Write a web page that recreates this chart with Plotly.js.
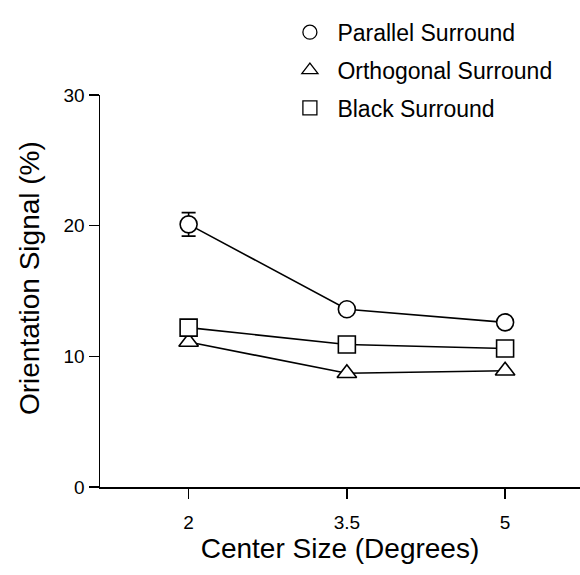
<!DOCTYPE html>
<html><head><meta charset="utf-8">
<script src="https://cdn.plot.ly/plotly-3.0.1.min.js"></script>
<style>body{margin:0;background:#fff}#c{width:580px;height:575px}</style>
</head><body><div id="c"></div>
<script>
const centerSize = [2, 3.5, 5];
const parallel = [20.1, 13.6, 12.6];
const parallelErr = [0.9, 0, 0];
const orthogonal = [11.1, 8.7, 8.9];
const black = [12.2, 10.9, 10.6];
const seriesNames = ['Parallel Surround', 'Orthogonal Surround', 'Black Surround'];
const xTicks = [2, 3.5, 5];
const xTickText = ['2', '3.5', '5'];
const yTicks = [0, 10, 20, 30];
const xTitle = 'Center Size (Degrees)';
const yTitle = 'Orientation Signal (%)';

const series = [
  {y: parallel, sym: 'circle', err: parallelErr},
  {y: orthogonal, sym: 'triangle-up'},
  {y: black, sym: 'square'}
];
const traces = [];
series.forEach((s) => {
  const t = {x: centerSize, y: s.y, mode: 'lines+markers', showlegend: false,
    line: {color: '#000', width: 1.6},
    marker: {symbol: s.sym, size: 17, color: '#fff', line: {color: '#000', width: 1.6}}};
  if (s.err) t.error_y = {type: 'data', array: s.err, visible: true, color: '#000', thickness: 1.6, width: 7};
  traces.push(t);
});
series.forEach((s, i) => {
  traces.push({x: [null], y: [null], mode: 'markers', name: seriesNames[i], showlegend: true,
    legendgroup: 'g' + i,
    marker: {symbol: s.sym, size: 14, color: '#fff', line: {color: '#000', width: 1.3}}});
});

const layout = {
  width: 580, height: 575,
  margin: {l: 100, r: 0, t: 95, b: 88},
  paper_bgcolor: '#fff', plot_bgcolor: '#fff',
  font: {family: 'Liberation Sans, Arial, sans-serif', color: '#000'},
  showlegend: true,
  legend: {x: 0.38, y: 1.215, xanchor: 'left', yanchor: 'top', font: {size: 23},
    bgcolor: 'rgba(0,0,0,0)', traceorder: 'grouped', tracegroupgap: 5, itemwidth: 45},
  xaxis: {range: [1.16, 5.71], tickvals: xTicks, ticktext: xTickText, ticks: 'outside', ticklen: 10,
    tickwidth: 1.5, tickcolor: '#000', showline: true, linecolor: '#000', linewidth: 1.5,
    showgrid: false, zeroline: false, tickfont: {size: 19}, ticklabelstandoff: 8,
    title: {text: xTitle, font: {size: 28}, standoff: 6}},
  yaxis: {range: [0, 30], tickvals: yTicks, ticks: 'outside', ticklen: 10, tickwidth: 1.5,
    tickcolor: '#000', showline: true, linecolor: '#000', linewidth: 1.5, showgrid: false,
    zeroline: false, tickfont: {size: 19}},
  annotations: [{text: yTitle, textangle: -90, xref: 'paper', yref: 'paper', x: 0, y: 0.533,
    xanchor: 'center', yanchor: 'middle', xshift: -71, showarrow: false, font: {size: 28}}]
};
Plotly.newPlot('c', traces, layout, {displayModeBar: false, staticPlot: true});
</script></body></html>
